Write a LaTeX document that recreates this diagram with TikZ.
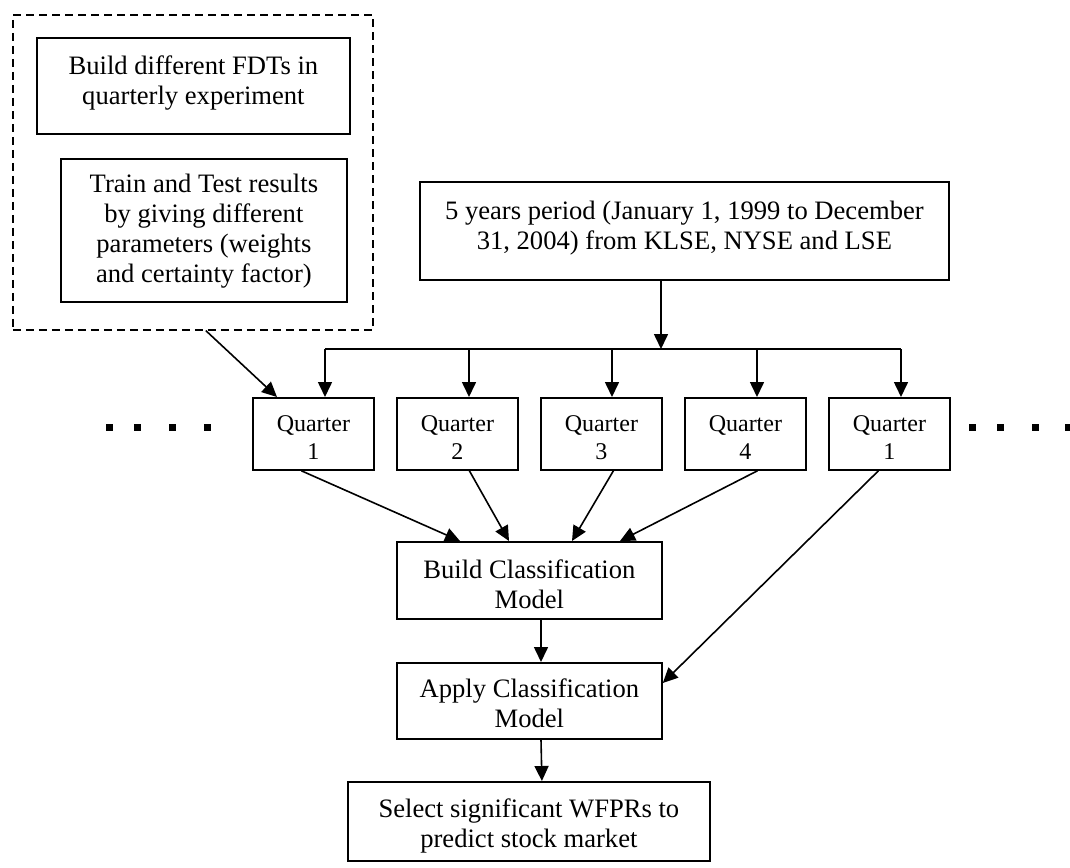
\documentclass[tikz,border=0pt]{standalone}
\usepackage{fontspec}
\setmainfont{Liberation Serif}
\usetikzlibrary{arrows.meta}
% centred multi-line label, its ink moved up by #1 while the box keeps its size
\newcommand{\liftlabel}[2]{\raisebox{#1}[\height][\depth]{\begin{tabular}{@{}c@{}}#2\end{tabular}}}
\begin{document}
\begin{tikzpicture}[x=1pt,y=-1pt,
  every node/.style={font=\fontsize{26.6}{30}\selectfont},
  boxed/.style={draw, line width=1.8pt, inner sep=0pt, anchor=north west},
  quarter/.style={boxed, minimum width=121pt, minimum height=72pt, font=\fontsize{24}{28}\selectfont},
  group/.style={draw, dashed, dash pattern=on 8pt off 5pt, line width=1.6pt, inner sep=0pt, anchor=north west},
  flow/.style={line width=1.6pt, -{Triangle[length=15pt,width=14pt]}},
  busline/.style={line width=1.6pt},
  dot/.style={fill=black}
]
\useasboundingbox (0,0) rectangle (1070,867);

% experiment group (dashed) and its two boxes
\node[group, minimum width=360pt, minimum height=315pt] (grp) at (12,14) {};
\node[boxed, minimum width=313pt, minimum height=96pt] (fdt) at (36,37)
  {\liftlabel{2pt}{Build different FDTs in\\quarterly experiment}};
\node[boxed, minimum width=286pt, minimum height=143pt] (train) at (60,158)
  {\liftlabel{-1.5pt}{Train and Test results\\by giving different\\parameters (weights\\and certainty factor)}};

% data source
\node[boxed, minimum width=529pt, minimum height=98pt] (src) at (419,181)
  {\liftlabel{2.5pt}{5 years period (January 1, 1999 to December\\31, 2004) from KLSE, NYSE and LSE}};

% quarters
\node[quarter] (q1) at (252,397) {\liftlabel{-5.5pt}{Quarter\\1}};
\node[quarter] (q2) at (396,397) {\liftlabel{-5.5pt}{Quarter\\2}};
\node[quarter] (q3) at (540,397) {\liftlabel{-5.5pt}{Quarter\\3}};
\node[quarter] (q4) at (684,397) {\liftlabel{-5.5pt}{Quarter\\4}};
\node[quarter] (q5) at (828,397) {\liftlabel{-5.5pt}{Quarter\\1}};

% model steps
\node[boxed, minimum width=265pt, minimum height=77pt] (build) at (396,541)
  {\liftlabel{-7pt}{Build Classification\\Model}};
\node[boxed, minimum width=265pt, minimum height=76pt] (apply) at (396,662)
  {\liftlabel{-5.5pt}{Apply Classification\\Model}};
\node[boxed, minimum width=362pt, minimum height=79pt] (select) at (347,781)
  {\liftlabel{-5.5pt}{Select significant WFPRs to\\predict stock market}};

% distribution bus
\coordinate (hub) at (661,349);
\coordinate (b1) at (325,349);
\coordinate (b2) at (469,349);
\coordinate (b3) at (612,349);
\coordinate (b4) at (757,349);
\coordinate (b5) at (901,349);
\draw[flow] (src.south -| hub) -- (hub);
\draw[busline] (b1) -- (b5);
\draw[flow] (b1) -- (b1 |- q1.north);
\draw[flow] (b2) -- (b2 |- q2.north);
\draw[flow] (b3) -- (b3 |- q3.north);
\draw[flow] (b4) -- (b4 |- q4.north);
\draw[flow] (b5) -- (b5 |- q5.north);

% experiment feeds the first quarter
\draw[flow] ([xshift=13pt]grp.south) -- ([xshift=25pt]q1.north west);

% quarters to the model
\draw[flow] ([xshift=-12pt]q1.south) -- ([xshift=64pt]build.north west);
\draw[flow] ([xshift=12pt]q2.south) -- ([xshift=113pt]build.north west);
\draw[flow] ([xshift=12pt]q3.south) -- ([xshift=176pt]build.north west);
\draw[flow] ([xshift=12pt]q4.south) -- ([xshift=224pt]build.north west);
\draw[flow] ([xshift=-11pt]q5.south) -- ([yshift=-21pt]apply.north east);
\draw[flow] ([xshift=145pt]build.south west) -- ([xshift=145pt]apply.north west);
\draw[flow] ([xshift=145pt]apply.south west) -- ([xshift=13pt]select.north);

% continuation marks
\foreach \cx in {109,137,172,207,972,1000,1035,1068}
  \fill[dot] (\cx-3.5,427-3.5) rectangle (\cx+3.5,427+3.5);
\end{tikzpicture}
\end{document}
